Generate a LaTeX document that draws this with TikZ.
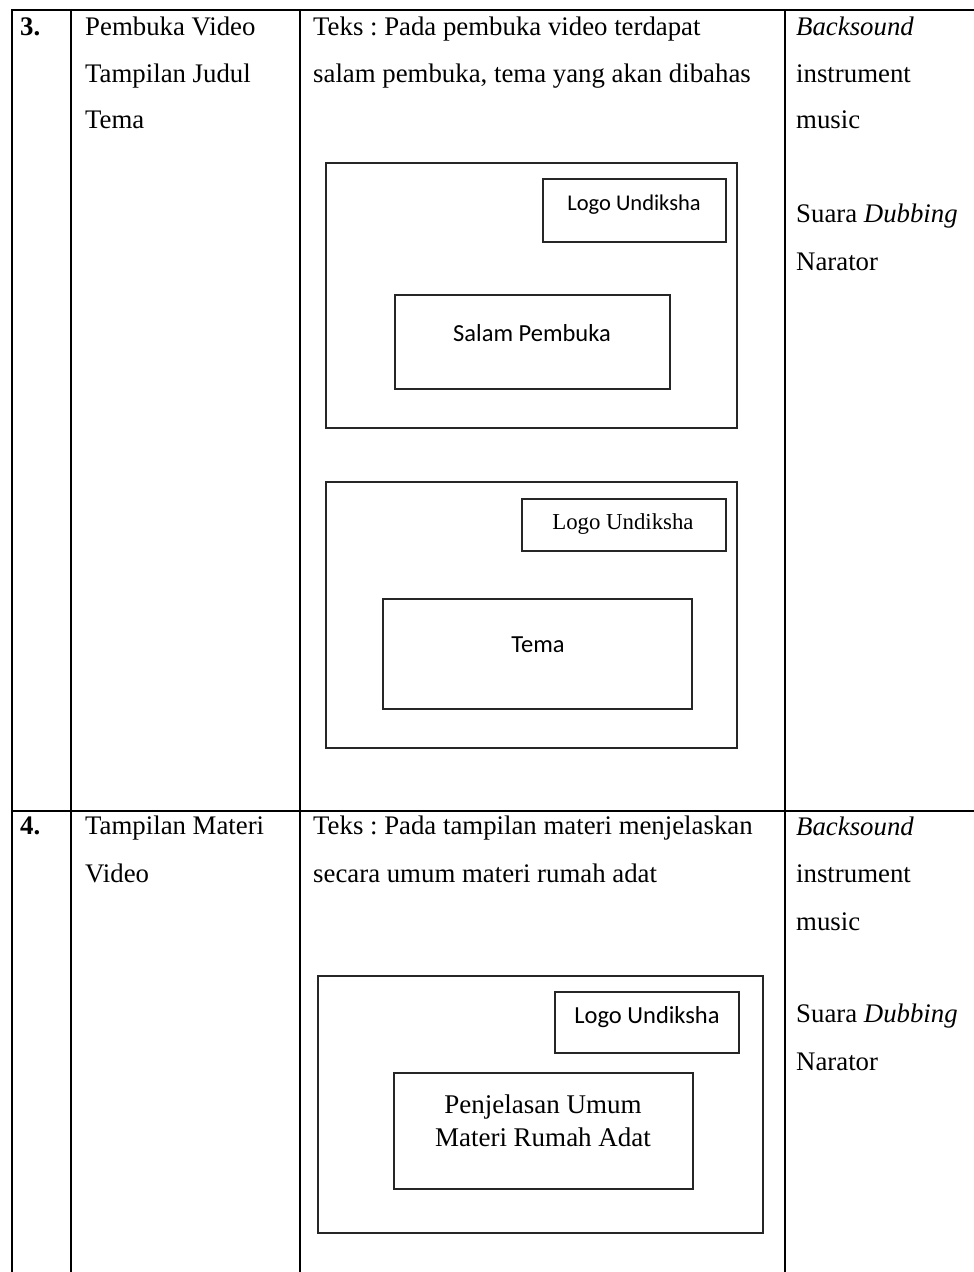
\documentclass[tikz,border=0pt]{standalone}
\usepackage{fontspec}
\setmainfont{Liberation Serif}
\newfontfamily\carl{Carlito}
\frenchspacing
\begin{document}
\begin{tikzpicture}[x=1pt,y=-1pt,
  grid/.style={line width=1.4pt,draw=black},
  frame/.style={draw=black!85,line width=1.6pt,inner sep=0pt},
  cell/.style={anchor=base west,inner sep=0pt,font=\fontsize{26.8}{32}\selectfont},
  sanslbl/.style={inner sep=0pt,font=\carl\fontsize{24.5}{28}\selectfont},
  seriflbl/.style={inner sep=0pt,font=\fontsize{22.8}{27}\selectfont},
  seriflbl2/.style={inner sep=0pt,align=center,font=\fontsize{27}{33}\selectfont}]
\useasboundingbox (0,0) rectangle (974,1272);
% table grid
\coordinate (tl) at (12,10);
\coordinate (tr) at (974,10);
\coordinate (bl) at (12,1272);
\draw[grid] (tr) -- (tl) -- (bl);
\draw[grid] (71,10) -- (71,1272);
\draw[grid] (300,10) -- (300,1272);
\draw[grid] (785,10) -- (785,1272);
\draw[grid] (12,811) -- (974,811);
% row 3 texts
\node[cell] (n3) at (20,35) {\textbf{3.}};
\node[cell] (r3a) at (85,35) {Pembuka Video};
\node[cell] (r3b) at (85,82) {Tampilan Judul};
\node[cell] (r3c) at (85,128) {Tema};
\node[cell] (t3a) at (313,35) {Teks : Pada pembuka video terdapat};
\node[cell] (t3b) at (313,82) {salam pembuka, tema yang akan dibahas};
\node[cell] (s3a) at (796,35) {\textit{Backsound}};
\node[cell] (s3b) at (796,82) {instrument};
\node[cell] (s3c) at (796,128) {music};
\node[cell] (s3d) at (796,222) {Suara \textit{Dubbing}};
\node[cell] (s3e) at (796,270) {Narator};
% row 4 texts
\node[cell] (n4) at (20,834) {\textbf{4.}};
\node[cell] (r4a) at (85,834) {Tampilan Materi};
\node[cell] (r4b) at (85,882) {Video};
\node[cell] (t4a) at (313,834) {Teks : Pada tampilan materi menjelaskan};
\node[cell] (t4b) at (313,882) {secara umum materi rumah adat};
\node[cell] (s4a) at (796,835) {\textit{Backsound}};
\node[cell] (s4b) at (796,882) {instrument};
\node[cell] (s4c) at (796,930) {music};
\node[cell] (s4d) at (796,1022) {Suara \textit{Dubbing}};
\node[cell] (s4e) at (796,1070) {Narator};
% screen A
\node[frame,minimum width=411pt,minimum height=265pt] (A) at (531.5,295.5) {};
\node[frame,minimum width=183pt,minimum height=63pt] (Alogo) at (634.5,210.5) {};
\node[sanslbl,font=\carl\fontsize{22.5}{26}\selectfont] (Alogot) at (634,205) {Logo Undiksha};
\node[frame,minimum width=275pt,minimum height=94pt] (Asalam) at (532.5,342) {};
\node[sanslbl] (Asalamt) at (532,333) {Salam Pembuka};
% screen B
\node[frame,minimum width=411pt,minimum height=266pt] (B) at (531.5,615) {};
\node[frame,minimum width=204pt,minimum height=52pt] (Blogo) at (624,525) {};
\node[seriflbl] (Blogot) at (623,524) {Logo Undiksha};
\node[frame,minimum width=309pt,minimum height=110pt] (Btema) at (537.5,654) {};
\node[sanslbl] (Btemat) at (538,645) {Tema};
% screen C
\node[frame,minimum width=445pt,minimum height=257pt] (C) at (540.5,1104.5) {};
\node[frame,minimum width=184pt,minimum height=61pt] (Clogo) at (647,1022.5) {};
\node[sanslbl] (Clogot) at (647,1017) {Logo Undiksha};
\node[frame,minimum width=299pt,minimum height=116pt] (Cpen) at (543.5,1131) {};
\node[seriflbl2] (Cpent) at (543,1121) {Penjelasan Umum\\Materi Rumah Adat};
\end{tikzpicture}
\end{document}
